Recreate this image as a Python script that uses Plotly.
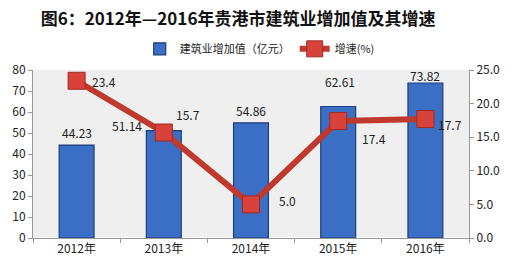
import plotly.graph_objects as go

years = ["2012年", "2013年", "2014年", "2015年", "2016年"]
value_added = [44.23, 51.14, 54.86, 62.61, 73.82]
growth = [23.4, 15.7, 5.0, 17.4, 17.7]
left_ticks = [0, 10, 20, 30, 40, 50, 60, 70, 80]
right_ticks = [0, 5, 10, 15, 20, 25]

FONT = "Noto Sans CJK SC"

fig = go.Figure()
fig.add_trace(go.Bar(
    x=years, y=value_added, name="建筑业增加值（亿元）",
    marker=dict(color="#3b6fc6", line=dict(color="#1f3d78", width=1.2)),
    width=0.4,
))
fig.add_trace(go.Scatter(
    x=years, y=growth, name="增速(%)", yaxis="y2", mode="lines+markers",
    line=dict(color="#c0392f", width=6),
    marker=dict(symbol="square", size=17, color="#d8423a",
                line=dict(color="#9e2a24", width=1)),
))

# bar value labels
bar_shift = [(0, 13), (-37, 5), (0, 12), (2, 25), (0, 7)]
for x, v, (dx, dy) in zip(years, value_added, bar_shift):
    fig.add_annotation(x=x, y=v, text=f"{v:.2f}", showarrow=False,
                       xshift=dx, yshift=dy, yref="y",
                       font=dict(family=FONT, size=12, color="#222"))
# growth labels
g_shift = [(27, -1), (24, 18), (36, 4), (36, -17), (25, -5)]
for x, v, (dx, dy) in zip(years, growth, g_shift):
    fig.add_annotation(x=x, y=v, text=f"{v:.1f}", showarrow=False,
                       xshift=dx, yshift=dy, yref="y2",
                       font=dict(family=FONT, size=12, color="#222"))

fig.update_layout(
    width=512, height=268,
    margin=dict(l=32, r=38, t=70, b=24),
    paper_bgcolor="white", plot_bgcolor="#efefef",
    font=dict(family=FONT, size=12, color="#222"),
    title=dict(text="<b>图6：2012年—2016年贵港市建筑业增加值及其增速</b>",
               x=0.465, xanchor="center", y=0.93, yanchor="middle",
               font=dict(family=FONT, size=17, color="#111")),
    legend=dict(orientation="h", x=0.52, xanchor="center", y=1.126, yanchor="middle",
                font=dict(family=FONT, size=11), bgcolor="rgba(0,0,0,0)",
                itemwidth=30),
    xaxis=dict(showline=True, linecolor="#999", ticks="outside", ticklen=4,
               tickcolor="#999", tickson="boundaries", showgrid=False,
               tickfont=dict(size=12)),
    yaxis=dict(range=[0, 80], tickvals=left_ticks, showgrid=False,
               showline=True, linecolor="#999", ticks="outside", ticklen=4,
               tickcolor="#999", tickfont=dict(size=12)),
    yaxis2=dict(range=[0, 25], tickvals=right_ticks, tickformat=".1f",
                overlaying="y", side="right", showgrid=False,
                showline=True, linecolor="#999", ticks="outside", ticklen=4,
                tickcolor="#999", tickfont=dict(size=12)),
)

fig.write_html("out.html")
